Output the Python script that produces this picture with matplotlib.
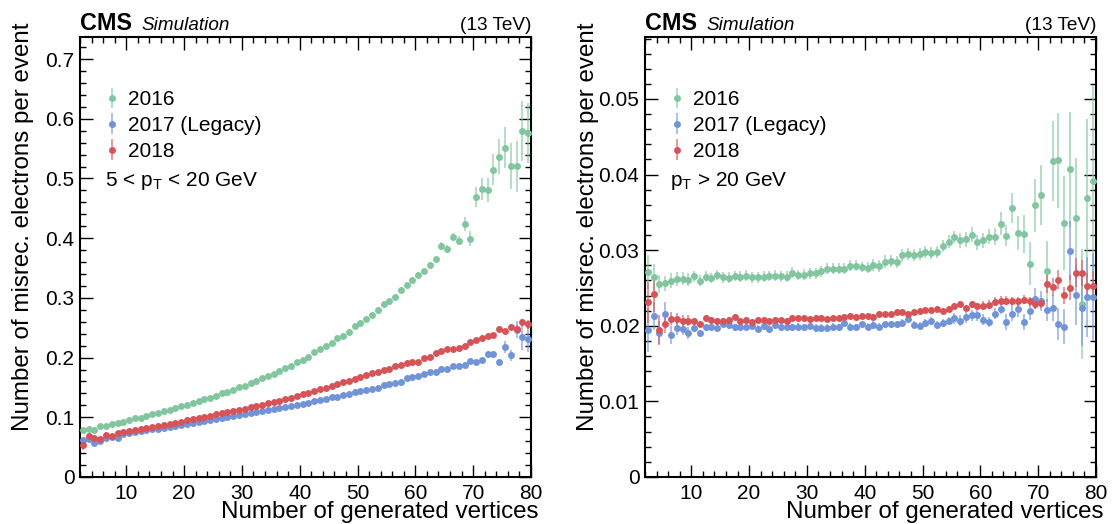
import numpy as np
import matplotlib
matplotlib.use("Agg")
import matplotlib.pyplot as plt
from matplotlib.ticker import MultipleLocator

plt.rcParams['font.family'] = ['Liberation Sans', 'DejaVu Sans']
plt.rcParams['mathtext.fontset'] = 'custom'
plt.rcParams['mathtext.rm'] = 'Liberation Sans'
plt.rcParams['mathtext.it'] = 'Liberation Sans:italic'

# bin centres, number of generated vertices
nvtx = np.arange(2.5, 80.0, 1.0)

# ---- 5 < pT < 20 GeV ----
lo_2016 = [0.078, 0.080, 0.078, 0.085, 0.0855, 0.088, 0.091, 0.092, 0.095, 0.098,
           0.0996, 0.1025, 0.1047, 0.1075, 0.110, 0.113, 0.116, 0.1186, 0.1214, 0.1242,
           0.1275, 0.130, 0.133, 0.136, 0.140, 0.143, 0.1454, 0.150, 0.153, 0.1567,
           0.1606, 0.165, 0.169, 0.172, 0.177, 0.182, 0.186, 0.192, 0.196, 0.201,
           0.209, 0.2137, 0.219, 0.2249, 0.2333, 0.2366, 0.2433, 0.2534, 0.2573, 0.2646,
           0.2708, 0.2797, 0.2892, 0.2948, 0.3021, 0.3133, 0.3217, 0.3301, 0.3385, 0.3457,
           0.3553, 0.3648, 0.387, 0.382, 0.4016, 0.396, 0.424, 0.3993, 0.469, 0.482,
           0.4805, 0.5146, 0.5364, 0.5515, 0.5207, 0.5202, 0.5795, 0.576]
lo_2016_err = [0.001] * 40 + [0.0015] * 14 + [0.002] * 6 + \
              [0.003, 0.004, 0.006, 0.006, 0.007, 0.008, 0.012, 0.013, 0.017, 0.018,
               0.020, 0.026, 0.029, 0.034, 0.038, 0.042, 0.050, 0.050]

lo_2017 = [0.0616, 0.063, 0.057, 0.060, 0.066, 0.067, 0.066, 0.0716, 0.074, 0.0755,
           0.0767, 0.0783, 0.080, 0.0811, 0.0828, 0.0845, 0.0856, 0.0878, 0.0895, 0.0911,
           0.0923, 0.0945, 0.0962, 0.0979, 0.0995, 0.1006, 0.1023, 0.1045, 0.1062, 0.1079,
           0.1096, 0.1107, 0.1119, 0.1135, 0.1152, 0.1169, 0.1186, 0.1208, 0.1225, 0.1242,
           0.127, 0.1298, 0.1309, 0.1337, 0.1348, 0.1376, 0.1398, 0.1426, 0.1443, 0.1454,
           0.1482, 0.1499, 0.1538, 0.1566, 0.1577, 0.1594, 0.165, 0.1678, 0.1695, 0.1723,
           0.1751, 0.1751, 0.1807, 0.1807, 0.1863, 0.1863, 0.1879, 0.1947, 0.1919, 0.1952,
           0.2053, 0.2053, 0.1919, 0.2171, 0.2036, 0.247, 0.235, 0.2315]
lo_2017_err = [0.003, 0.002] + [0.001] * 66 + \
              [0.003, 0.003, 0.003, 0.003, 0.006, 0.010, 0.009, 0.015, 0.022, 0.022]

lo_2018 = [0.053, 0.0688, 0.066, 0.063, 0.071, 0.068, 0.074, 0.0755, 0.0767, 0.079,
           0.080, 0.082, 0.0839, 0.0856, 0.0878, 0.0895, 0.0911, 0.0928, 0.0951, 0.0967,
           0.099, 0.1006, 0.1029, 0.105, 0.1074, 0.109, 0.1113, 0.113, 0.1147, 0.117,
           0.1186, 0.1214, 0.1236, 0.126, 0.128, 0.1303, 0.133, 0.135, 0.1387, 0.141,
           0.1444, 0.1466, 0.1494, 0.1528, 0.1555, 0.1583, 0.1611, 0.1639, 0.1667, 0.1701,
           0.1734, 0.1762, 0.1784, 0.1812, 0.1852, 0.1879, 0.1907, 0.193, 0.193, 0.1991,
           0.2014, 0.2075, 0.2103, 0.2137, 0.2137, 0.2165, 0.2193, 0.2254, 0.2293, 0.2327,
           0.2366, 0.2377, 0.2478, 0.2439, 0.2517, 0.2478, 0.259, 0.2556]
lo_2018_err = [0.007, 0.003] + [0.001] * 66 + \
              [0.002, 0.002, 0.002, 0.002, 0.003, 0.004, 0.004, 0.006, 0.006, 0.008]

# ---- pT > 20 GeV ----
hi_2016 = [0.02713, 0.02642, 0.02554, 0.02563, 0.02594, 0.02616, 0.02625, 0.02612, 0.02655, 0.02598,
           0.0265, 0.02633, 0.02673, 0.02642, 0.02638, 0.0266, 0.0265, 0.02664, 0.02642, 0.02642,
           0.0265, 0.0266, 0.02664, 0.02655, 0.0265, 0.02704, 0.02673, 0.02677, 0.02695, 0.02695,
           0.02722, 0.02757, 0.02757, 0.02757, 0.02757, 0.02797, 0.02797, 0.0278, 0.02771, 0.0281,
           0.02792, 0.0285, 0.02859, 0.02841, 0.0293, 0.02952, 0.02934, 0.02952, 0.02974, 0.02965,
           0.02978, 0.03053, 0.03115, 0.03177, 0.03131, 0.03144, 0.03204, 0.03103, 0.03131, 0.03177,
           0.0318, 0.0335, 0.0319, 0.03558, 0.03228, 0.03215, 0.02823, 0.03594, 0.03733, 0.0272,
           0.04182, 0.04187, 0.0336, 0.04072, 0.0342, 0.02287, 0.0369, 0.0392]
hi_2016_err = [0.0023, 0.0017, 0.0012, 0.001, 0.001, 0.0009, 0.0008, 0.0008] + [0.0007] * 31 + \
              [0.0008] * 15 + [0.001] * 6 + \
              [0.0011, 0.0015, 0.0014, 0.002, 0.0022, 0.0025, 0.0028, 0.0035, 0.004, 0.004,
               0.0053, 0.0063, 0.0062, 0.0076, 0.008, 0.0073, 0.0104, 0.0126]

hi_2017 = [0.0195, 0.0213, 0.0191, 0.0215, 0.0188, 0.0197, 0.0196, 0.0191, 0.0197, 0.0190,
           0.0198, 0.0199, 0.0197, 0.0203, 0.0201, 0.0198, 0.0198, 0.0199, 0.0200, 0.0196,
           0.0200, 0.0196, 0.0201, 0.0198, 0.0198, 0.0198, 0.0199, 0.0198, 0.0200, 0.0197,
           0.0197, 0.0197, 0.0199, 0.0198, 0.0204, 0.0199, 0.0198, 0.0202, 0.0199, 0.0201,
           0.0199, 0.0202, 0.0202, 0.0202, 0.0204, 0.0209, 0.0201, 0.0200, 0.0204, 0.0206,
           0.0201, 0.0204, 0.0206, 0.0210, 0.0207, 0.0211, 0.0214, 0.0214, 0.0208, 0.0205,
           0.0216, 0.0222, 0.0205, 0.0216, 0.0222, 0.0205, 0.0220, 0.0236, 0.0233, 0.0221,
           0.0224, 0.0202, 0.0199, 0.0299, 0.0241, 0.0223, 0.0238, 0.0238]
hi_2017_err = [0.0029, 0.0018, 0.0015, 0.0016, 0.0012, 0.0009, 0.0008, 0.0008] + [0.0005] * 45 + \
              [0.0007] * 9 + [0.001] * 4 + \
              [0.0012, 0.0014, 0.0013, 0.0015, 0.0017, 0.0021, 0.0023, 0.0039, 0.004, 0.005,
               0.0053, 0.0058]

hi_2018 = [0.0231, 0.02425, 0.01947, 0.02027, 0.02094, 0.0209, 0.02058, 0.02067, 0.02067, 0.02023,
           0.02098, 0.0208, 0.02058, 0.02067, 0.0208, 0.02116, 0.02058, 0.0208, 0.02054, 0.02076,
           0.02071, 0.02067, 0.02076, 0.02076, 0.02067, 0.02098, 0.02098, 0.02098, 0.0209, 0.02098,
           0.02103, 0.02094, 0.02103, 0.02103, 0.02112, 0.02134, 0.02116, 0.02129, 0.02129, 0.02116,
           0.0216, 0.02156, 0.02156, 0.02178, 0.02178, 0.0216, 0.02178, 0.02191, 0.02209, 0.02205,
           0.02222, 0.02191, 0.02227, 0.02258, 0.02284, 0.0224, 0.02293, 0.02258, 0.02267, 0.0228,
           0.0232, 0.02334, 0.02334, 0.02325, 0.02325, 0.02342, 0.02325, 0.02284, 0.02302, 0.02559,
           0.02515, 0.02612, 0.02404, 0.02506, 0.02701, 0.02696, 0.02533, 0.02524]
hi_2018_err = [0.0027, 0.0024, 0.002, 0.0012, 0.0009, 0.0008, 0.0008, 0.0007] + [0.0004] * 50 + \
              [0.0006] * 11 + \
              [0.0013, 0.0012, 0.0012, 0.0011, 0.0017, 0.0019, 0.0017, 0.0017, 0.002]

labels = ['2016', '2017 (Legacy)', '2018']
colors = ['#82c6a0', '#7194d8', '#d65458']

fig = plt.figure(figsize=(11.12, 5.24), dpi=100)
ax1 = fig.add_axes([80 / 1112, 47 / 524, 451 / 1112, 440 / 524])
ax2 = fig.add_axes([645 / 1112, 47 / 524, 451 / 1112, 440 / 524])


def draw(ax, series, errs, ymax, major, minor, cut_text, fmt):
    handles = []
    for vals, err, lab, col in zip(series, errs, labels, colors):
        h = ax.errorbar(nvtx, vals, yerr=err, fmt='o', ms=5.0, mew=0, color=col,
                        ecolor=col, elinewidth=1.4, capsize=0, label=lab, zorder=3)
        h[2][0].set_alpha(0.6)
        handles.append(h)
    ax.set_xlim(2, 80)
    ax.set_ylim(0, ymax)
    ax.xaxis.set_major_locator(MultipleLocator(10))
    ax.xaxis.set_minor_locator(MultipleLocator(2))
    ax.yaxis.set_major_locator(MultipleLocator(major))
    ax.yaxis.set_minor_locator(MultipleLocator(minor))
    ax.yaxis.set_major_formatter(fmt)
    ax.tick_params(which='both', direction='in', top=True, right=True, width=1.0,
                   labelsize=15, color='black')
    ax.tick_params(which='major', length=9)
    ax.tick_params(which='minor', length=4.5)
    ax.tick_params(axis='x', pad=5)
    ax.tick_params(axis='y', pad=4)
    for sp in ax.spines.values():
        sp.set_linewidth(1.5)
    ax.set_xlabel('Number of generated vertices', fontsize=17.4, loc='right')
    ax.xaxis.set_label_coords(1.016, -0.055)
    ax.set_ylabel('Number of misrec. electrons per event', fontsize=17.4, loc='top')
    ax.yaxis.set_label_coords(-0.102, 1.034)
    ax.text(0.0, 1.016, 'CMS', transform=ax.transAxes, fontsize=16.8,
            fontweight='bold', va='baseline', ha='left')
    ax.text(0.137, 1.016, 'Simulation', transform=ax.transAxes, fontsize=13.6,
            style='italic', va='baseline', ha='left')
    ax.text(1.0, 1.016, '(13 TeV)', transform=ax.transAxes, fontsize=13.7,
            va='baseline', ha='right')
    ax.legend(handles=handles, loc='upper left', bbox_to_anchor=(0.058, 0.879),
              frameon=False, fontsize=15, handlelength=0.6, handletextpad=0.45,
              labelspacing=0.33, borderaxespad=0, borderpad=0)
    ax.text(0.055, 0.672, cut_text, transform=ax.transAxes, fontsize=15,
            va='center', ha='left')


def fmt_lo(v, pos):
    return '0' if abs(v) < 1e-9 else ('%.1f' % v)


def fmt_hi(v, pos):
    return '0' if abs(v) < 1e-9 else ('%.2f' % v)


draw(ax1, [lo_2016, lo_2017, lo_2018], [lo_2016_err, lo_2017_err, lo_2018_err],
     0.737, 0.1, 0.02, r'5 < $\mathregular{p_{T}}$ < 20 GeV', plt.FuncFormatter(fmt_lo))
draw(ax2, [hi_2016, hi_2017, hi_2018], [hi_2016_err, hi_2017_err, hi_2018_err],
     0.0582, 0.01, 0.002, r'$\mathregular{p_{T}}$ > 20 GeV', plt.FuncFormatter(fmt_hi))

fig.savefig('out.png', dpi=100)
